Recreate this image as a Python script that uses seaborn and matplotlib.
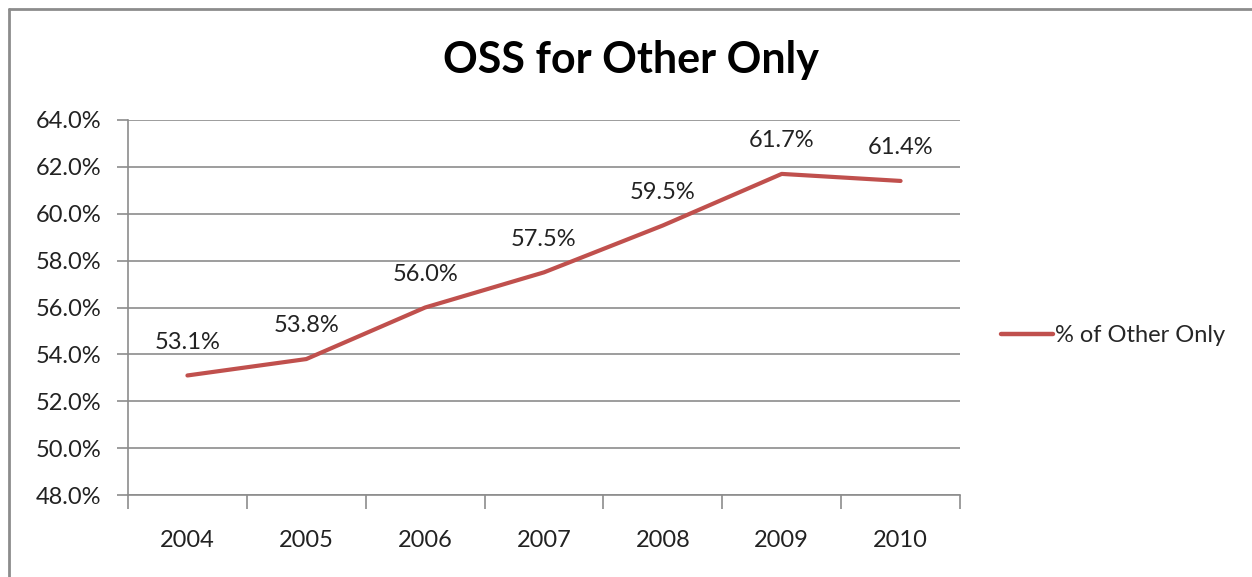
import matplotlib
matplotlib.use("Agg")
import matplotlib.pyplot as plt
import seaborn as sns
import pandas as pd
import numpy as np
from matplotlib.ticker import FixedLocator
from matplotlib.lines import Line2D

years = ["2004", "2005", "2006", "2007", "2008", "2009", "2010"]
values = [53.1, 53.8, 56.0, 57.5, 59.5, 61.7, 61.4]
series_name = "% of Other Only"
title = "OSS for Other Only"
y_ticks = [48, 50, 52, 54, 56, 58, 60, 62, 64]

sns.set_theme(style="white")
plt.rcParams["font.family"] = ["Lato", "DejaVu Sans"]

df = pd.DataFrame({"year": years, "value": values, "series": series_name})

fig = plt.figure(figsize=(12.52, 5.77), dpi=100)
ax = fig.add_axes([128 / 1252, 82 / 577, 832 / 1252, 375 / 577])

color = "#C0504D"
sns.lineplot(data=df, x="year", y="value", hue="series", palette=[color],
             linewidth=3.0, ax=ax, legend=False, sort=False)
ax.lines[0].set_solid_capstyle("round")
ax.lines[0].set_solid_joinstyle("round")

fs = 17
ax.set_xlim(-0.5, len(years) - 0.5)
ax.set_ylim(y_ticks[0], y_ticks[-1])
ax.set_yticks(y_ticks)
ax.set_yticklabels([f"{t:.1f}%" for t in y_ticks])
ax.set_xticks(range(len(years)))
ax.set_xticklabels(years)
ax.xaxis.set_minor_locator(FixedLocator(np.arange(-0.5, len(years), 1.0)))
ax.tick_params(axis="x", which="major", length=0, pad=25, labelsize=fs, colors="#222222")
ax.tick_params(axis="x", which="minor", length=10, width=1.2, color="#8c8c8c", bottom=True)
ax.tick_params(axis="y", which="major", length=8, width=1.2, color="#8c8c8c", left=True,
               pad=11, labelsize=fs, labelcolor="#222222")
ax.set_xlabel("")
ax.set_ylabel("")
ax.grid(axis="y", color="#8c8c8c", linewidth=1.2)
ax.grid(axis="x", visible=False)
for s in ["top", "right"]:
    ax.spines[s].set_visible(False)
for s in ["left", "bottom"]:
    ax.spines[s].set_color("#8c8c8c")
    ax.spines[s].set_linewidth(1.2)

for i, v in enumerate(values):
    ax.annotate(f"{v:.1f}%", (i, v), xytext=(0, 24), textcoords="offset points",
                ha="center", va="center", fontsize=fs, color="#222222")

fig.text(631 / 1252, 1 - 60 / 577, title, ha="center", va="center",
         fontsize=31, fontweight="bold", color="#000000")

h = Line2D([], [], color=color, linewidth=3.2, solid_capstyle="round")
fig.legend([h], [series_name], loc="center left",
           bbox_to_anchor=(1001 / 1252, 1 - 336 / 577), frameon=False,
           fontsize=fs, handlelength=2.2, handletextpad=0.1, borderaxespad=0,
           borderpad=0)

fig.add_artist(Line2D([8.5 / 1252, 1], [1 - 8.5 / 577, 1 - 8.5 / 577],
                      transform=fig.transFigure, color="#8c8c8c", linewidth=2))
fig.add_artist(Line2D([8.5 / 1252, 8.5 / 1252], [0, 1 - 8.5 / 577],
                      transform=fig.transFigure, color="#8c8c8c", linewidth=2))

fig.savefig("out.png", dpi=100)
